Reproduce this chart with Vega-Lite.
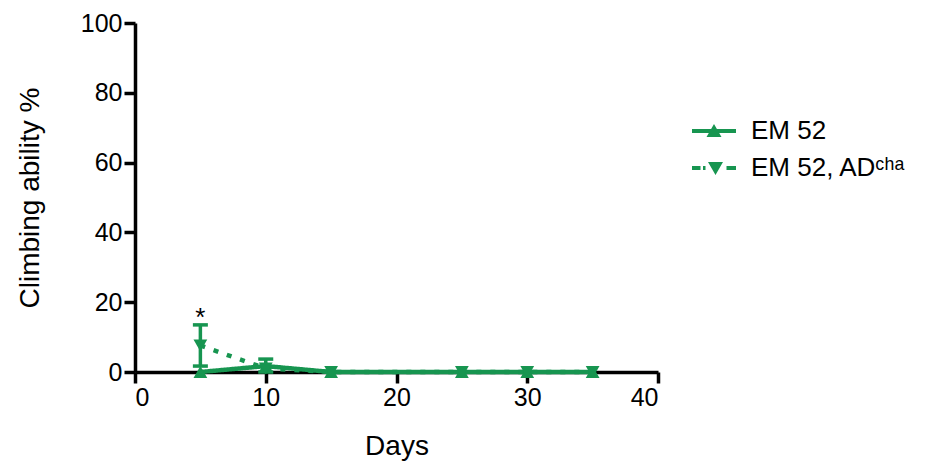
{
  "$schema": "https://vega.github.io/schema/vega-lite/v6.json",
  "width": 523,
  "height": 349,
  "autosize": {"type": "none"},
  "padding": {"left": 135, "top": 23, "right": 270, "bottom": 95},
  "background": "white",
  "config": {
    "view": {"stroke": null},
    "font": "Liberation Sans",
    "axis": {
      "grid": false,
      "domainColor": "black",
      "domainWidth": 3.5,
      "tickColor": "black",
      "tickWidth": 3.5,
      "tickSize": 11,
      "labelFontSize": 25,
      "labelColor": "black",
      "labelFont": "Liberation Sans",
      "titleFontSize": 28,
      "titleFont": "Liberation Sans",
      "titleFontWeight": "normal",
      "titleColor": "black",
      "labelPadding": 2
    }
  },
  "datasets": {
    "means": [
      {"series": "EM 52", "day": 5, "value": 0},
      {"series": "EM 52", "day": 10, "value": 1.7},
      {"series": "EM 52", "day": 15, "value": 0},
      {"series": "EM 52", "day": 25, "value": 0},
      {"series": "EM 52", "day": 30, "value": 0},
      {"series": "EM 52", "day": 35, "value": 0},
      {"series": "EM 52, ADᶜʰᵃ", "day": 5, "value": 7.6},
      {"series": "EM 52, ADᶜʰᵃ", "day": 10, "value": 1.0},
      {"series": "EM 52, ADᶜʰᵃ", "day": 15, "value": 0},
      {"series": "EM 52, ADᶜʰᵃ", "day": 25, "value": 0},
      {"series": "EM 52, ADᶜʰᵃ", "day": 30, "value": 0},
      {"series": "EM 52, ADᶜʰᵃ", "day": 35, "value": 0}
    ],
    "errors": [
      {"series": "EM 52", "day": 10, "low": 0, "high": 3.7},
      {"series": "EM 52, ADᶜʰᵃ", "day": 5, "low": 1.7, "high": 13.5}
    ],
    "marks": [
      {"day": 5, "value": 15.5, "label": "*"}
    ]
  },
  "resolve": {"scale": {"shape": "independent"}, "legend": {"shape": "independent"}},
  "layer": [
    {
      "data": {"name": "errors"},
      "mark": {"type": "rule", "color": "#179550", "strokeWidth": 3.5},
      "encoding": {
        "x": {"field": "day", "type": "quantitative"},
        "y": {"field": "low", "type": "quantitative"},
        "y2": {"field": "high"}
      }
    },
    {
      "data": {"name": "errors"},
      "mark": {"type": "tick", "orient": "horizontal", "color": "#179550", "opacity": 1, "size": 15, "thickness": 3.5},
      "encoding": {
        "x": {"field": "day", "type": "quantitative"},
        "y": {"field": "high", "type": "quantitative"}
      }
    },
    {
      "data": {"name": "errors"},
      "mark": {"type": "tick", "orient": "horizontal", "color": "#179550", "opacity": 1, "size": 15, "thickness": 3.5},
      "encoding": {
        "x": {"field": "day", "type": "quantitative"},
        "y": {"field": "low", "type": "quantitative"}
      }
    },
    {
      "data": {"name": "means"},
      "mark": {"type": "line", "color": "#179550", "strokeWidth": 4.5},
      "encoding": {
        "x": {
          "field": "day", "type": "quantitative",
          "scale": {"domain": [0, 40], "nice": false, "zero": false},
          "axis": {"values": [0, 10, 20, 30, 40], "title": "Days", "titlePadding": 22}
        },
        "y": {
          "field": "value", "type": "quantitative",
          "scale": {"domain": [0, 100], "nice": false},
          "axis": {"values": [0, 20, 40, 60, 80, 100], "title": "Climbing ability %", "titlePadding": 36}
        },
        "detail": {"field": "series"},
        "strokeDash": {
          "field": "series", "type": "nominal",
          "scale": {"domain": ["EM 52", "EM 52, ADᶜʰᵃ"], "range": [[1, 0], [5, 9]]},
          "legend": null
        }
      }
    },
    {
      "data": {"name": "means"},
      "mark": {"type": "point", "filled": true, "opacity": 1, "color": "#179550", "size": 190},
      "encoding": {
        "x": {"field": "day", "type": "quantitative"},
        "y": {"field": "value", "type": "quantitative"},
        "shape": {
          "field": "series", "type": "nominal",
          "scale": {"domain": ["EM 52", "EM 52, ADᶜʰᵃ"], "range": ["triangle-up", "triangle-down"]},
          "legend": null
        }
      }
    },
    {
      "data": {"name": "means"},
      "mark": {"type": "point", "filled": true, "opacity": 0, "color": "#179550", "size": 400},
      "encoding": {
        "x": {"field": "day", "type": "quantitative"},
        "y": {"field": "value", "type": "quantitative"},
        "shape": {
          "field": "series", "type": "nominal",
          "scale": {
            "domain": ["EM 52", "EM 52, ADᶜʰᵃ"],
            "range": [
              "M-2.2,-0.2H2.2V0.2H-2.2ZM0,-0.7L0.75,0.6H-0.75Z",
              "M-2.2,-0.2H-1.35V0.2H-2.2ZM-1.1,-0.2H-0.85V0.2H-1.1ZM1.25,-0.2H2.2V0.2H1.25ZM-0.6,-0.6H0.9L0.15,0.7Z"
            ]
          },
          "legend": {
            "title": null,
            "orient": "none",
            "legendX": 566,
            "legendY": 95,
            "symbolSize": 400,
            "symbolOpacity": 1,
            "symbolFillColor": "#179550",
            "symbolStrokeColor": "#179550",
            "symbolStrokeWidth": 0,
            "labelFontSize": 26,
            "labelFont": "Liberation Sans",
            "labelColor": "black",
            "labelOffset": 24,
            "rowPadding": 11
          }
        }
      }
    },
    {
      "data": {"name": "marks"},
      "mark": {"type": "text", "fontSize": 26, "color": "black", "baseline": "middle", "font": "Liberation Sans"},
      "encoding": {
        "x": {"field": "day", "type": "quantitative"},
        "y": {"field": "value", "type": "quantitative"},
        "text": {"field": "label"}
      }
    }
  ]
}
